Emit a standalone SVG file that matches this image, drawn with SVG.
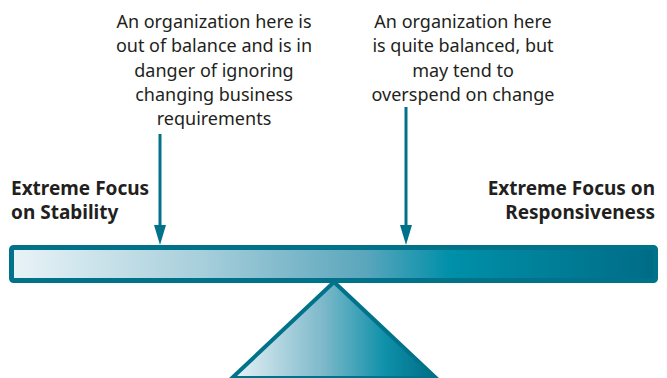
<svg xmlns="http://www.w3.org/2000/svg" width="667" height="378" viewBox="0 0 667 378">
<style>
.t{font-family:"Noto Sans","Open Sans","Liberation Sans",sans-serif;font-size:18px;fill:#231f20;text-anchor:middle}
.b{font-family:"Noto Sans","Open Sans","Liberation Sans",sans-serif;font-size:19px;font-weight:bold;fill:#231f20}
.c{stroke:#00728a;stroke-width:3;fill:none}
</style>
<defs>
<linearGradient id="gb" x1="0" y1="0" x2="1" y2="0">
<stop offset="0" stop-color="#e9f3f7"/>
<stop offset="0.3" stop-color="#a6cedb"/>
<stop offset="0.55" stop-color="#5ba6bc"/>
<stop offset="0.68" stop-color="#0090a9"/>
<stop offset="1" stop-color="#006c86"/>
</linearGradient>
<linearGradient id="gt" x1="0" y1="0" x2="1" y2="0">
<stop offset="0" stop-color="#e9f3f7"/>
<stop offset="0.45" stop-color="#7cb8ca"/>
<stop offset="0.75" stop-color="#0e91a9"/>
<stop offset="1" stop-color="#006c86"/>
</linearGradient>
</defs>
<g id="fulcrum">
<path d="M334,282 L436,378 L232,378 Z" fill="url(#gt)" stroke="#00728a" stroke-width="4" stroke-linejoin="miter"/>
</g>
<g id="beam">
<rect x="11.5" y="247.5" width="644" height="33" rx="2" fill="url(#gb)" stroke="#00728a" stroke-width="5"/>
</g>
<g id="connectors">
<line class="c" x1="160" y1="134" x2="160" y2="226"/>
<path d="M154,225 L166,225 L160,245 Z" fill="#00728a"/>
<line class="c" x1="406" y1="107" x2="406" y2="226"/>
<path d="M400,225 L412,225 L406,245 Z" fill="#00728a"/>
</g>
<g id="note-left">
<text class="t" x="214" y="28">An organization here is</text>
<text class="t" x="214" y="52">out of balance and is in</text>
<text class="t" x="214" y="77">danger of ignoring</text>
<text class="t" x="214" y="101">changing business</text>
<text class="t" x="214" y="125">requirements</text>
</g>
<g id="note-right">
<text class="t" x="463" y="28">An organization here</text>
<text class="t" x="463" y="52">is quite balanced, but</text>
<text class="t" x="463" y="77">may tend to</text>
<text class="t" x="463" y="101">overspend on change</text>
</g>
<g id="label-left">
<text class="b" x="11" y="195">Extreme Focus</text>
<text class="b" x="11" y="219">on Stability</text>
</g>
<g id="label-right">
<text class="b" x="655" y="195" text-anchor="end">Extreme Focus on</text>
<text class="b" x="655" y="219" text-anchor="end">Responsiveness</text>
</g>
</svg>
